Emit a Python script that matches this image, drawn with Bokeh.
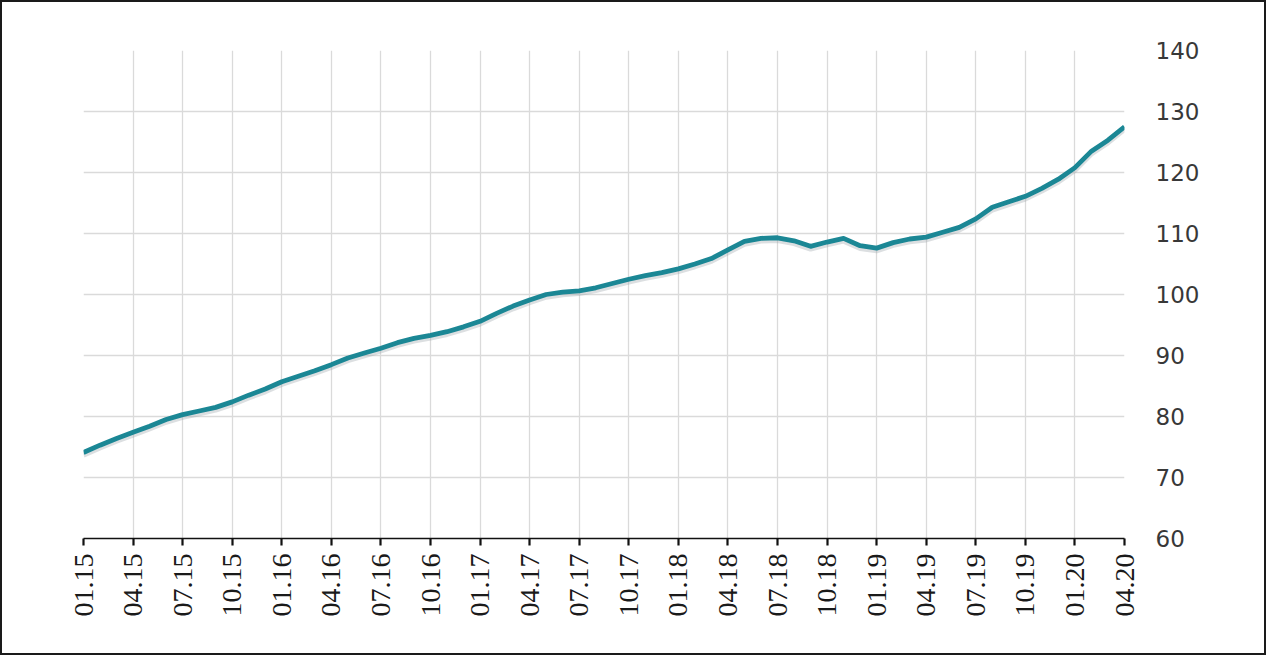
from bokeh.plotting import figure
from bokeh.layouts import column
from bokeh.models import Range1d, FixedTicker, ColumnDataSource
from bokeh.embed import file_html
from bokeh.resources import INLINE

# Monthly index values, 01.2015 .. 04.2020
months = [f"{m:02d}.{y % 100:02d}" for y in range(2015, 2021) for m in range(1, 13)][:64]
values = [
    74.1, 75.3, 76.4, 77.4, 78.4, 79.5, 80.3, 80.9, 81.5, 82.4, 83.5, 84.5,
    85.7, 86.6, 87.5, 88.5, 89.6, 90.4, 91.2, 92.1, 92.8, 93.3, 93.9, 94.7,
    95.6, 96.9, 98.1, 99.1, 100.0, 100.4, 100.6, 101.1, 101.8, 102.5, 103.1, 103.6,
    104.2, 105.0, 105.9, 107.3, 108.7, 109.2, 109.3, 108.8, 107.9, 108.6, 109.2, 108.0,
    107.6, 108.5, 109.1, 109.4, 110.2, 111.0, 112.4, 114.3, 115.2, 116.1, 117.4, 118.9,
    120.8, 123.5, 125.3, 127.5,
]
tick_labels = months[::3]
y_ticks = [60, 70, 80, 90, 100, 110, 120, 130, 140]

idx = list(range(len(values)))
src = ColumnDataSource(data=dict(x=idx, y=values))

p = figure(width=1262, height=651, output_backend="svg", toolbar_location=None,
           x_range=Range1d(0, len(values) - 1), y_range=Range1d(60, 140),
           y_axis_location="right",
           min_border_left=81, min_border_right=140, min_border_top=48, min_border_bottom=115)
p.outline_line_color = None

# faint shadow under the line
p.extra_y_ranges = {"shadow": Range1d(60.45, 140.45)}
p.line("x", "y", source=src, line_color="#9aa3a8", line_width=5, line_alpha=0.35,
       y_range_name="shadow")
p.line("x", "y", source=src, line_color="#1b8795", line_width=4.8, line_join="round")

xt = list(range(0, len(values), 3))
p.xaxis.ticker = FixedTicker(ticks=xt)
p.xaxis.major_label_overrides = {t: lab for t, lab in zip(xt, tick_labels)}
p.xaxis.major_label_orientation = 1.5707963
p.xaxis.major_label_text_font = "Liberation Sans Narrow"
p.xaxis.major_label_text_font_size = "28px"
p.xaxis.major_label_text_color = "#1a1a1a"
p.xaxis.major_label_standoff = 8
p.xaxis.axis_line_color = "#111111"
p.xaxis.axis_line_width = 1.6
p.xaxis.major_tick_line_color = "#111111"
p.xaxis.major_tick_line_width = 2.2
p.xaxis.major_tick_out = 7
p.xaxis.major_tick_in = 0
p.xaxis.minor_tick_line_color = None

p.yaxis.ticker = FixedTicker(ticks=y_ticks)
p.yaxis.axis_line_color = None
p.yaxis.major_tick_line_color = None
p.yaxis.minor_tick_line_color = None
p.yaxis.major_tick_out = 0
p.yaxis.major_tick_in = 0
p.yaxis.major_label_standoff = 31
p.yaxis.major_label_text_font = "DejaVu Sans"
p.yaxis.major_label_text_font_size = "23px"
p.yaxis.major_label_text_color = "#383838"

p.xgrid.ticker = FixedTicker(ticks=xt)
p.ygrid.ticker = FixedTicker(ticks=y_ticks)
p.xgrid.grid_line_color = "#dadada"
p.ygrid.grid_line_color = "#dadada"
p.xgrid.grid_line_width = 1.3
p.ygrid.grid_line_width = 1.3

layout = column(p, styles={"border": "2px solid #1a1a1a"})

open("out.html", "w").write(file_html(layout, INLINE))
